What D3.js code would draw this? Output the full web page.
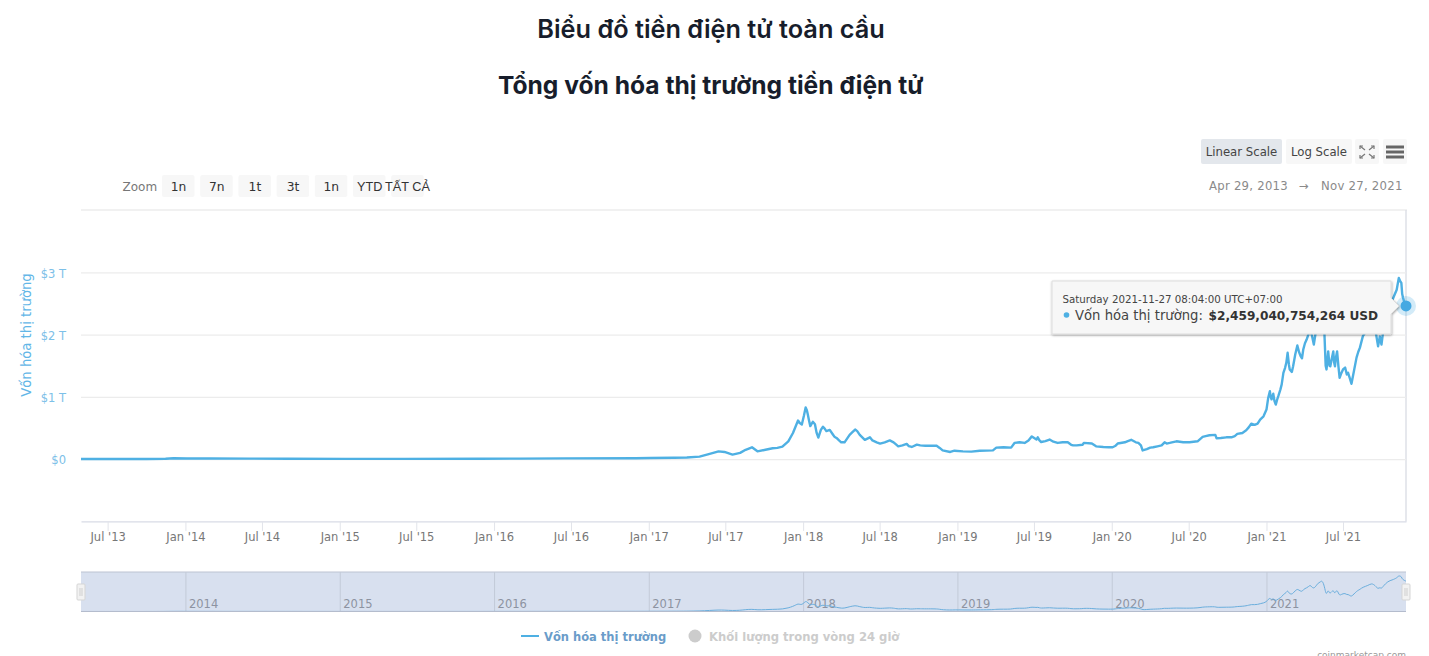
<!DOCTYPE html>
<html lang="vi">
<head>
<meta charset="utf-8">
<title>Biểu đồ tiền điện tử toàn cầu</title>
<script src="https://cdn.jsdelivr.net/npm/d3@7"></script>
<style>
  html, body { margin: 0; padding: 0; background: #fff; overflow: hidden; }
  svg { display: block; }
  text { font-family: "DejaVu Sans", sans-serif; }
  .title { font-family: Inter, sans-serif; fill: #171d2b; text-anchor: middle; }
</style>
</head>
<body>
<svg id="chart" width="1429" height="656"></svg>
<script>
// market cap, in trillions of USD
const dates = [
  "2013-04-29", "2013-07-01", "2013-10-01", "2013-11-15", "2013-12-04", "2014-01-05", "2014-03-01", "2014-06-01",
  "2014-09-01", "2015-01-15", "2015-06-01", "2015-12-01", "2016-03-01", "2016-06-15", "2016-12-01", "2017-01-05",
  "2017-03-01", "2017-04-01", "2017-05-01", "2017-05-25", "2017-06-15", "2017-06-29", "2017-07-18", "2017-08-05",
  "2017-08-18", "2017-09-02", "2017-09-15", "2017-10-04", "2017-10-21", "2017-11-01", "2017-11-13", "2017-11-27",
  "2017-12-08", "2017-12-20", "2017-12-29", "2018-01-07", "2018-01-12", "2018-01-18", "2018-01-24", "2018-01-29",
  "2018-02-06", "2018-02-17", "2018-02-25", "2018-03-05", "2018-03-12", "2018-03-21", "2018-04-01", "2018-04-09",
  "2018-04-21", "2018-05-04", "2018-05-15", "2018-05-27", "2018-06-08", "2018-06-24", "2018-07-02", "2018-07-13",
  "2018-07-25", "2018-08-03", "2018-08-14", "2018-09-03", "2018-09-15", "2018-09-27", "2018-10-17", "2018-11-12",
  "2018-11-27", "2018-12-15", "2018-12-25", "2019-01-14", "2019-02-03", "2019-02-23", "2019-03-26", "2019-04-03",
  "2019-05-08", "2019-05-16", "2019-06-09", "2019-06-26", "2019-07-07", "2019-07-10", "2019-07-18", "2019-08-07",
  "2019-08-26", "2019-09-07", "2019-09-19", "2019-09-27", "2019-10-10", "2019-10-24", "2019-10-27", "2019-11-15",
  "2019-11-25", "2019-12-12", "2020-01-03", "2020-01-15", "2020-02-01", "2020-02-16", "2020-02-27", "2020-03-04",
  "2020-03-10", "2020-03-14", "2020-03-24", "2020-04-01", "2020-04-18", "2020-05-05", "2020-05-17", "2020-06-02",
  "2020-07-03", "2020-07-22", "2020-08-03", "2020-08-19", "2020-09-02", "2020-09-05", "2020-09-28", "2020-10-10",
  "2020-10-24", "2020-11-14", "2020-11-26", "2020-12-11", "2020-12-17", "2020-12-25", "2021-01-01", "2021-01-09",
  "2021-01-13", "2021-01-17", "2021-01-23", "2021-01-29", "2021-02-06", "2021-02-10", "2021-02-14", "2021-02-20",
  "2021-02-25", "2021-03-05", "2021-03-15", "2021-03-23", "2021-03-29", "2021-04-06", "2021-04-14", "2021-04-23",
  "2021-04-30", "2021-05-12", "2021-05-17", "2021-05-21", "2021-05-23", "2021-05-27", "2021-06-01", "2021-06-08",
  "2021-06-12", "2021-06-17", "2021-06-23", "2021-07-01", "2021-07-13", "2021-07-21", "2021-08-02", "2021-08-10",
  "2021-08-17", "2021-08-29", "2021-09-07", "2021-09-15", "2021-09-22", "2021-09-26", "2021-09-30", "2021-10-04",
  "2021-10-15", "2021-10-26", "2021-10-31", "2021-11-10", "2021-11-16", "2021-11-20", "2021-11-27"
];
const marketCap = [
  0.002, 0.001, 0.002, 0.005, 0.015, 0.011, 0.009, 0.008,
  0.007, 0.004, 0.004, 0.006, 0.008, 0.012, 0.013, 0.018,
  0.022, 0.027, 0.04, 0.085, 0.125, 0.115, 0.072, 0.10,
  0.15, 0.19, 0.125, 0.15, 0.175, 0.18, 0.20, 0.286,
  0.42, 0.62, 0.555, 0.83, 0.72, 0.53, 0.60, 0.56,
  0.345, 0.52, 0.45, 0.47, 0.40, 0.34, 0.27, 0.27,
  0.39, 0.475, 0.39, 0.31, 0.35, 0.27, 0.25, 0.27,
  0.30, 0.27, 0.205, 0.245, 0.195, 0.233, 0.215, 0.217,
  0.14, 0.115, 0.135, 0.125, 0.12, 0.135, 0.14, 0.185,
  0.185, 0.26, 0.26, 0.365, 0.315, 0.35, 0.275, 0.315,
  0.26, 0.27, 0.27, 0.23, 0.22, 0.23, 0.26, 0.25,
  0.205, 0.195, 0.19, 0.25, 0.27, 0.31, 0.27, 0.26,
  0.22, 0.14, 0.16, 0.185, 0.205, 0.27, 0.26, 0.286,
  0.27, 0.286, 0.357, 0.383, 0.39, 0.334, 0.35, 0.35,
  0.405, 0.463, 0.57, 0.57, 0.635, 0.688, 0.795, 1.09,
  0.96, 1.05, 0.876, 1.01, 1.2, 1.386, 1.466, 1.707,
  1.44, 1.49, 1.825, 1.65, 1.76, 1.92, 2.15, 1.84,
  2.15, 2.52, 2.2, 1.5, 1.44, 1.73, 1.49, 1.73,
  1.49, 1.73, 1.305, 1.44, 1.386, 1.21, 1.63, 1.79,
  1.975, 2.1, 2.3, 2.1, 1.81, 1.97, 1.84, 2.05,
  2.45, 2.56, 2.64, 2.91, 2.83, 2.59, 2.459
];
// finer wiggles between the readings above
const detailDates = [
  "2017-12-14", "2017-12-24", "2018-01-03", "2018-01-10", "2018-01-15", "2018-02-02", "2018-02-12", "2018-02-21",
  "2018-03-16", "2018-03-27", "2018-04-27", "2018-05-09", "2018-05-21", "2018-06-14", "2018-08-08", "2018-08-24",
  "2018-09-08", "2018-10-05", "2018-11-20", "2019-04-20", "2019-05-28", "2019-06-18", "2019-07-14", "2019-07-28",
  "2019-08-16", "2019-10-02", "2019-12-25", "2020-01-09", "2020-02-08", "2020-04-08", "2020-04-28", "2020-05-10",
  "2020-06-18", "2020-08-10", "2020-09-15", "2020-10-18", "2020-11-05", "2020-11-20", "2020-12-04", "2021-01-05",
  "2021-01-11", "2021-01-20", "2021-01-26", "2021-02-03", "2021-02-17", "2021-02-23", "2021-03-02", "2021-03-10",
  "2021-03-19", "2021-03-26", "2021-04-02", "2021-04-10", "2021-04-18", "2021-05-03", "2021-05-08", "2021-05-25",
  "2021-05-30", "2021-06-04", "2021-06-10", "2021-06-14", "2021-06-20", "2021-06-27", "2021-07-06", "2021-07-10",
  "2021-07-17", "2021-07-27", "2021-08-06", "2021-11-05", "2021-11-13", "2021-11-18", "2021-11-23"
];
const detailCap = [
  0.52, 0.58, 0.70, 0.78, 0.62, 0.42, 0.47, 0.49,
  0.36, 0.30, 0.43, 0.45, 0.35, 0.30, 0.24, 0.22,
  0.21, 0.22, 0.18, 0.19, 0.27, 0.30, 0.30, 0.29,
  0.28, 0.22, 0.19, 0.21, 0.29, 0.19, 0.22, 0.25,
  0.27, 0.37, 0.34, 0.37, 0.42, 0.51, 0.55, 0.98,
  1.0, 0.93, 0.95, 1.12, 1.55, 1.52, 1.40, 1.68,
  1.72, 1.62, 1.86, 2.0, 2.0, 2.3, 2.38, 1.58,
  1.50, 1.6, 1.55, 1.62, 1.50, 1.38, 1.47, 1.36,
  1.30, 1.42, 1.72, 2.72, 2.86, 2.65, 2.52
];
const xTickDates = [
  "2013-07-01", "2014-01-01", "2014-07-01", "2015-01-01", "2015-07-01", "2016-01-01", "2016-07-01", "2017-01-01",
  "2017-07-01", "2018-01-01", "2018-07-01", "2019-01-01", "2019-07-01", "2020-01-01", "2020-07-01", "2021-01-01", "2021-07-01"
];
const xTickLabels = [
  "Jul '13", "Jan '14", "Jul '14", "Jan '15", "Jul '15", "Jan '16", "Jul '16", "Jan '17",
  "Jul '17", "Jan '18", "Jul '18", "Jan '19", "Jul '19", "Jan '20", "Jul '20", "Jan '21", "Jul '21"
];
const yTicks = [0, 1, 2, 3];
const yTickLabels = ["$0", "$1 T", "$2 T", "$3 T"];
const navYears = ["2014", "2015", "2016", "2017", "2018", "2019", "2020", "2021"];
const zoomButtons = ["1n", "7n", "1t", "3t", "1n", "YTD", "TẤT CẢ"];

const lineColor = "#4eb0e3";
const parse = d3.utcParse("%Y-%m-%d");
const points = dates.map((d, i) => ({ date: parse(d), value: marketCap[i] }))
  .concat(detailDates.map((d, i) => ({ date: parse(d), value: detailCap[i] })))
  .sort((a, b) => a.date - b.date);

const plot = { left: 81, right: 1406, top: 210, bottom: 521.4 };
const nav = { top: 572, bottom: 611.5 };

const x = d3.scaleUtc()
  .domain([parse("2013-04-29"), parse("2021-11-27")])
  .range([plot.left, plot.right]);
const y = d3.scaleLinear().domain([-1, 4]).range([plot.bottom, plot.top]);
const yNav = d3.scaleLinear().domain([0, 3.2]).range([nav.bottom, nav.top]);

const svg = d3.select("#chart");

// titles
svg.append("text").attr("class", "title").attr("x", 711).attr("y", 37.7)
  .attr("font-size", 25.3).attr("font-weight", 600).text("Biểu đồ tiền điện tử toàn cầu");
svg.append("text").attr("class", "title").attr("x", 710.7).attr("y", 93.7)
  .attr("font-size", 24.6).attr("font-weight", 700).text("Tổng vốn hóa thị trường tiền điện tử");

// top right buttons
function button(bx, by, w, h, fill, label) {
  svg.append("rect").attr("x", bx).attr("y", by).attr("width", w).attr("height", h)
    .attr("rx", 2).attr("fill", fill);
  if (label) {
    svg.append("text").attr("x", bx + w / 2).attr("y", by + h / 2 + 4.5)
      .attr("text-anchor", "middle").attr("font-size", 11.7).attr("fill", "#444").text(label);
  }
}
button(1201, 139, 81, 25, "#e3e7ec", "Linear Scale");
button(1286, 139, 66, 25, "#f7f7f7", "Log Scale");
button(1355, 139, 24, 25, "#f7f7f7");
button(1383, 139, 24, 25, "#f7f7f7");

// fullscreen icon
const corners = [[1360, 146, 1, 1], [1374, 146, -1, 1], [1360, 158, 1, -1], [1374, 158, -1, -1]];
corners.forEach(([cx, cy, sx, sy]) => {
  svg.append("path")
    .attr("d", `M${cx},${cy}l${sx * 5},${sy * 4}`)
    .attr("stroke", "#777").attr("stroke-width", 1.2).attr("fill", "none");
  svg.append("path")
    .attr("d", `M${cx},${cy + sy * 3}v${-sy * 3}h${sx * 3}`)
    .attr("stroke", "#777").attr("stroke-width", 1.2).attr("fill", "none");
});
[147, 152, 157].forEach((ly) => {
  svg.append("line").attr("x1", 1386).attr("x2", 1404).attr("y1", ly).attr("y2", ly)
    .attr("stroke", "#666").attr("stroke-width", 3);
});

// range selector
svg.append("text").attr("x", 122.5).attr("y", 190.5).attr("font-size", 12).attr("fill", "#777").text("Zoom");
zoomButtons.forEach((label, i) => {
  const bx = 162 + i * 38.2;
  svg.append("rect").attr("x", bx).attr("y", 175).attr("width", 32.5).attr("height", 22)
    .attr("rx", 2).attr("fill", "#f7f7f7");
  if (i < 5) {
    svg.append("text").attr("x", bx + 16.5).attr("y", 190.5).attr("text-anchor", "middle")
      .attr("font-size", 12.3).attr("fill", "#333").text(label);
  }
});
// these two labels overflow their buttons in the original
svg.append("text").attr("x", 357).attr("y", 190.5).attr("font-size", 12.7)
  .style("font-family", "'Liberation Sans', sans-serif").attr("fill", "#333").text(zoomButtons[5]);
svg.append("text").attr("x", 385).attr("y", 190.5).attr("font-size", 12.7)
  .style("font-family", "'Liberation Sans', sans-serif").attr("fill", "#333").text(zoomButtons[6]);

// date range inputs
[["Apr 29, 2013", 1209], ["→", 1299], ["Nov 27, 2021", 1321]].forEach(([label, tx]) => {
  svg.append("text").attr("x", tx).attr("y", 190)
    .attr("font-size", 11.7).attr("letter-spacing", 0.25).attr("fill", "#8a8a8a").text(label);
});

// plot frame
svg.append("line").attr("x1", plot.left).attr("x2", plot.right + 1).attr("y1", plot.top).attr("y2", plot.top)
  .attr("stroke", "#ececec").attr("stroke-width", 1.4);
svg.append("line").attr("x1", plot.right).attr("x2", plot.right).attr("y1", plot.top).attr("y2", plot.bottom)
  .attr("stroke", "#dcdfe6").attr("stroke-width", 1.4);

// y axis with grid
const yAxis = d3.axisLeft(y)
  .tickValues(yTicks)
  .tickFormat((d, i) => yTickLabels[i])
  .tickSize(-(plot.right - plot.left))
  .tickPadding(15);
const yG = svg.append("g").attr("transform", `translate(${plot.left},0)`).call(yAxis);
yG.select(".domain").remove();
yG.selectAll(".tick line").attr("stroke", "#ececec").attr("stroke-width", 1.2);
yG.selectAll(".tick text").attr("fill", "#7cc0e8").attr("font-size", 11.5).attr("dy", "0.42em")
  .style("font-family", "'DejaVu Sans', sans-serif");

svg.append("text")
  .attr("transform", "translate(31,335) rotate(-90)")
  .attr("text-anchor", "middle").attr("font-size", 13.2).attr("fill", "#62b6e7")
  .text("Vốn hóa thị trường");

// x axis
const xAxis = d3.axisBottom(x)
  .tickValues(xTickDates.map(parse))
  .tickFormat((d, i) => xTickLabels[i])
  .tickSize(9.5)
  .tickSizeOuter(0)
  .tickPadding(1.5);
const xG = svg.append("g").attr("transform", `translate(0,${plot.bottom})`).call(xAxis);
xG.select(".domain").attr("stroke", "#d8dbe6").attr("stroke-width", 1.4);
xG.selectAll(".tick line").attr("stroke", "#e2e4ea");
xG.selectAll(".tick text").attr("fill", "#777").attr("font-size", 11.5)
  .style("font-family", "'DejaVu Sans', sans-serif");

// main series
const line = d3.line().x((d) => x(d.date)).y((d) => y(d.value));
svg.append("path").datum(points).attr("d", line)
  .attr("fill", "none").attr("stroke", lineColor).attr("stroke-width", 2.4).attr("stroke-linejoin", "round");

// navigator
svg.append("rect").attr("x", plot.left).attr("y", nav.top)
  .attr("width", plot.right - plot.left).attr("height", nav.bottom - nav.top)
  .attr("fill", "#d8e0ef");
svg.append("line").attr("x1", plot.left).attr("x2", plot.right).attr("y1", nav.top).attr("y2", nav.top)
  .attr("stroke", "#bcc3d2");
const navAxis = d3.axisBottom(x)
  .tickValues(navYears.map((yr) => parse(yr + "-01-01")))
  .tickFormat((d, i) => navYears[i])
  .tickSize(nav.bottom - nav.top)
  .tickSizeOuter(0);
const navG = svg.append("g").attr("transform", `translate(0,${nav.top})`).call(navAxis);
navG.select(".domain").remove();
navG.selectAll(".tick line").attr("stroke", "#c3cad8");
navG.selectAll(".tick text")
  .attr("text-anchor", "start").attr("x", 3).attr("y", 32).attr("dy", "0.32em")
  .attr("fill", "#8d93a1").attr("font-size", 11.5)
  .style("font-family", "'DejaVu Sans', sans-serif");
const navLine = d3.line().curve(d3.curveBasis).x((d) => x(d.date)).y((d) => yNav(d.value));
svg.append("path").datum(points).attr("d", navLine)
  .attr("fill", "none").attr("stroke", "#6aaedd").attr("stroke-width", 1);
svg.append("line").attr("x1", plot.left).attr("x2", plot.right).attr("y1", nav.bottom).attr("y2", nav.bottom)
  .attr("stroke", "#b4bccd").attr("stroke-width", 1.2);
[plot.left, plot.right].forEach((hx) => {
  svg.append("rect").attr("x", hx - 4).attr("y", 584).attr("width", 8).attr("height", 16)
    .attr("rx", 1).attr("fill", "#f2f2f2").attr("stroke", "#d5d5d5");
  [-1, 1].forEach((o) => {
    svg.append("line").attr("x1", hx + o).attr("x2", hx + o).attr("y1", 588).attr("y2", 596)
      .attr("stroke", "#cfcfcf");
  });
});

// legend
svg.append("line").attr("x1", 521).attr("x2", 539).attr("y1", 636).attr("y2", 636)
  .attr("stroke", lineColor).attr("stroke-width", 2);
svg.append("text").attr("x", 544).attr("y", 640.5).attr("font-size", 11.5).attr("font-weight", 700)
  .attr("fill", "#6a9cc9").text("Vốn hóa thị trường");
svg.append("circle").attr("cx", 695).attr("cy", 636).attr("r", 6.5).attr("fill", "#ccc");
svg.append("text").attr("x", 709).attr("y", 640.5).attr("font-size", 11.6).attr("font-weight", 700)
  .attr("fill", "#ccc").text("Khối lượng trong vòng 24 giờ");
// the credit sits on the bottom edge of the picture, cut off as in the original
svg.append("text").attr("x", 1406).attr("y", 658.3).attr("text-anchor", "end").attr("font-size", 9)
  .attr("fill", "#999").text("coinmarketcap.com");

// tooltip for the last point
const last = points[points.length - 1];
const defs = svg.append("defs");
const shadow = defs.append("filter").attr("id", "tipShadow")
  .attr("x", "-5%").attr("y", "-15%").attr("width", "110%").attr("height", "130%");
shadow.append("feDropShadow").attr("dx", 0.5).attr("dy", 1).attr("stdDeviation", 1.2)
  .attr("flood-color", "#000").attr("flood-opacity", 0.35);

svg.append("circle").attr("cx", x(last.date)).attr("cy", y(last.value)).attr("r", 10)
  .attr("fill", lineColor).attr("opacity", 0.25);
svg.append("path")
  .attr("d", "M1052,281H1391V298L1399,306L1391,314V334H1052Z")
  .attr("fill", "#f7f7f7").attr("stroke", "#ddd").attr("filter", "url(#tipShadow)");
svg.append("circle").attr("cx", x(last.date)).attr("cy", y(last.value)).attr("r", 5.5)
  .attr("fill", "#45a9e2");
svg.append("text").attr("x", 1062.5).attr("y", 302.5).attr("font-size", 10.25).attr("fill", "#444")
  .text("Saturday 2021-11-27 08:04:00 UTC+07:00");
svg.append("circle").attr("cx", 1066.5).attr("cy", 315).attr("r", 2.8).attr("fill", lineColor);
svg.append("text").attr("x", 1075).attr("y", 319.5).attr("font-size", 13.2).attr("fill", "#444")
  .text("Vốn hóa thị trường:");
svg.append("text").attr("x", 1208.5).attr("y", 319.5).attr("font-size", 12.15).attr("font-weight", 700).attr("fill", "#333")
  .text("$2,459,040,754,264 USD");
</script>
</body>
</html>
